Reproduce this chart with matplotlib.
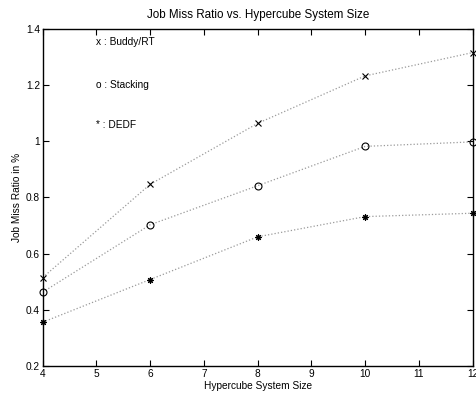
import matplotlib
matplotlib.use("Agg")
import matplotlib.pyplot as plt

# Job miss ratio (%) vs hypercube size
sizes = [4, 6, 8, 10, 12]
buddy = [0.515, 0.847, 1.064, 1.233, 1.316]
stacking = [0.463, 0.703, 0.842, 0.982, 0.998]
dedf = [0.356, 0.508, 0.660, 0.732, 0.744]

labels = ["x : Buddy/RT", "o : Stacking", "* : DEDF"]
label_y = [1.352, 1.200, 1.058]

plt.rcParams['font.family'] = ['Liberation Sans', 'DejaVu Sans']
plt.rcParams['font.size'] = 7.3

fig = plt.figure(figsize=(4.77, 3.94), dpi=100)
ax = fig.add_axes([0.0895, 0.071, 0.9015, 0.8555])

markers = ['x', 'o', (8, 2, 0)]
for ys, mk in zip([buddy, stacking, dedf], markers):
    ax.plot(sizes, ys, color='#9a9a9a', linestyle=':', linewidth=0.9)
    ax.plot(sizes, ys, linestyle='none', marker=mk, color='black',
            markerfacecolor='none' if mk == 'o' else 'black',
            markersize=4.6 if mk != 'o' else 5.0, markeredgewidth=0.8,
            clip_on=False)

for txt, y in zip(labels, label_y):
    ax.text(4.99, y, txt, va='center', ha='left')

ax.set_xlim(4, 12)
ax.set_ylim(0.2, 1.4)
ax.set_xticks(range(4, 13))
ax.set_yticks([0.2, 0.4, 0.6, 0.8, 1.0, 1.2, 1.4])
ax.set_yticklabels(['0.2', '0.4', '0.6', '0.8', '1', '1.2', '1.4'])
ax.tick_params(direction='in', top=True, right=True, length=4, width=0.8, pad=2)
for s in ax.spines.values():
    s.set_linewidth(1.0)

ax.set_title('Job Miss Ratio vs. Hypercube System Size', fontsize=8.4, pad=8)
ax.set_xlabel('Hypercube System Size', labelpad=1.5)
ax.set_ylabel('Job Miss Ratio in %', labelpad=3)

fig.savefig('out.png', dpi=100)
